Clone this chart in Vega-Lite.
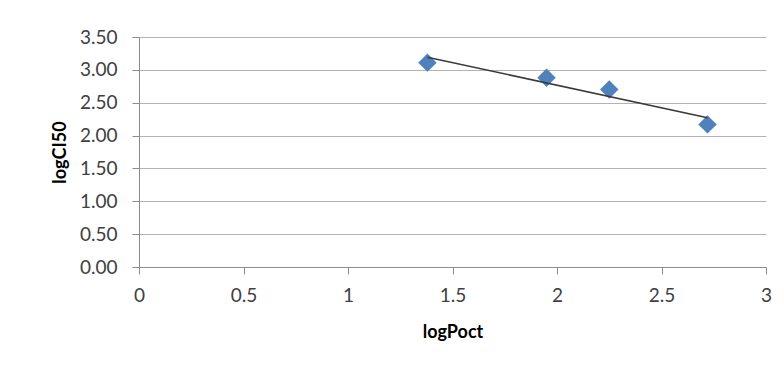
{
  "$schema": "https://vega.github.io/schema/vega-lite/v6.json",
  "autosize": "none",
  "width": 627,
  "height": 230,
  "padding": {"left": 139, "top": 37, "right": 18, "bottom": 102},
  "background": "white",
  "config": {
    "view": {"stroke": null},
    "font": "Lato",
    "axis": {
      "labelFont": "Lato",
      "titleFont": "Lato",
      "labelColor": "#404040",
      "titleColor": "#000000",
      "labelFontSize": 19,
      "titleFontSize": 18,
      "titleFontWeight": "bold",
      "domainColor": "#8c8c8c",
      "tickColor": "#8c8c8c",
      "gridColor": "#b3b3b3",
      "tickSize": 7,
      "labelOverlap": false,
      "labelFlush": false,
      "labelBound": false
    }
  },
  "data": {
    "values": [
      {"logPoct": 1.38, "logCI50": 3.11},
      {"logPoct": 1.95, "logCI50": 2.88},
      {"logPoct": 2.25, "logCI50": 2.70},
      {"logPoct": 2.72, "logCI50": 2.17}
    ]
  },
  "encoding": {
    "x": {
      "field": "logPoct", "type": "quantitative",
      "scale": {"domain": [0, 3], "nice": false, "zero": true},
      "axis": {"values": [0, 0.5, 1, 1.5, 2, 2.5, 3], "tickCount": 7, "format": "~g", "grid": false, "title": "logPoct", "labelPadding": 12, "titlePadding": 18}
    },
    "y": {
      "field": "logCI50", "type": "quantitative",
      "scale": {"domain": [0, 3.5], "nice": false},
      "axis": {"values": [0, 0.5, 1, 1.5, 2, 2.5, 3, 3.5], "tickCount": 8, "format": ".2f", "grid": true, "title": "logCI50", "labelPadding": 15, "titlePadding": 10}
    }
  },
  "layer": [
    {
      "mark": {"type": "point", "shape": "diamond", "filled": true, "size": 340, "color": "#4F81BD", "opacity": 1}
    },
    {
      "transform": [{"regression": "logCI50", "on": "logPoct"}],
      "mark": {"type": "line", "color": "#3a3a3a", "strokeWidth": 1.5}
    }
  ]
}
